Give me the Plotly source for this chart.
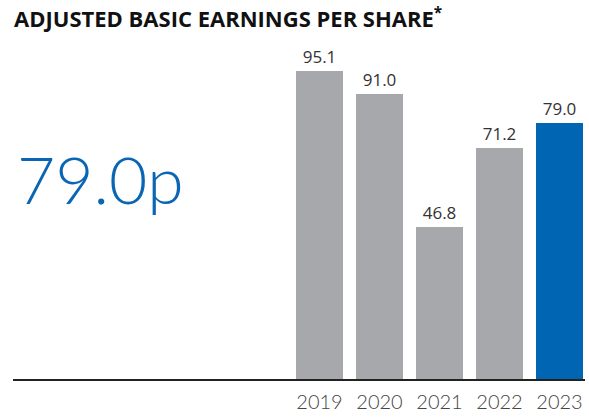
import plotly.graph_objects as go

years = ["2019", "2020", "2021", "2022", "2023"]
# Bar heights as drawn in the reference picture
bar_heights = [95.1, 87.8, 46.8, 71.2, 79.0]
# Value labels printed above the bars
value_labels = ["95.1", "91.0", "46.8", "71.2", "79.0"]
bar_colors = ["#a7a8ab", "#a7a8ab", "#a7a8ab", "#a7a8ab", "#0066b3"]
headline = "79.0p"
title_text = "ADJUSTED BASIC EARNINGS PER SHARE"

fig = go.Figure(go.Bar(
    x=years, y=bar_heights,
    marker=dict(color=bar_colors, line=dict(width=0)),
    width=0.767,
    text=value_labels,
    textposition="outside",
    cliponaxis=False,
    textfont=dict(family="Open Sans", size=17, color="#333333"),
))

fig.update_layout(
    width=589, height=417,
    margin=dict(l=13, r=4, t=40, b=35),
    paper_bgcolor="white", plot_bgcolor="white",
    showlegend=False,
    bargap=0,
    xaxis=dict(
        type="category", range=[-5.108, 4.425],
        showline=True, linecolor="#222222", linewidth=1.5,
        showgrid=False, ticks="", zeroline=False,
        ticklabelstandoff=4,
        tickfont=dict(family="Lato", size=20, color="#444444", weight=300),
    ),
    yaxis=dict(range=[0, 104.6], visible=False),
    annotations=[
        dict(text=f"<b>{title_text}</b><sup><b>*</b></sup>", xref="paper", yref="paper",
             x=-0.002, y=1.067, xanchor="left", yanchor="middle", showarrow=False,
             font=dict(family="Open Sans", size=22, color="#111111")),
        dict(text=headline, xref="paper", yref="paper",
             x=0.004, y=0.59, xanchor="left", yanchor="middle", showarrow=False,
             font=dict(family="Lato", size=66, color="#0a66b5", weight=300)),
    ],
)

fig.write_html("out.html", config={"displayModeBar": False},
               post_script="document.body.style.margin='0';document.body.style.padding='0';document.body.style.overflow='hidden';")
